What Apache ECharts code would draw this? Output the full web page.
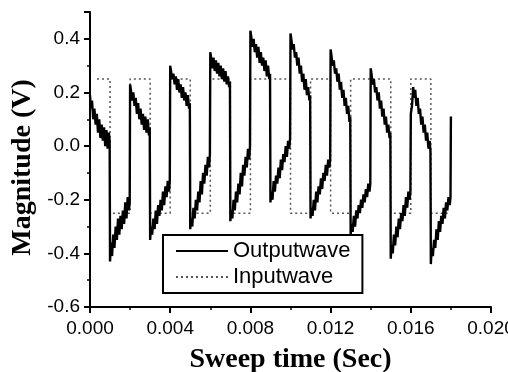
<!DOCTYPE html>
<html>
<head>
<meta charset="utf-8">
<script src="https://cdn.jsdelivr.net/npm/echarts@6/dist/echarts.min.js"></script>
<style>html,body{margin:0;padding:0;background:#fff}#c{width:508px;height:372px}</style>
</head>
<body>
<div id="c"></div>
<script>
// time in ms, magnitude in V
var xTickLabels = {0:'0.000',4:'0.004',8:'0.008',12:'0.012',16:'0.016',20:'0.020'};
var yTickLabels = {'-0.6':'-0.6','-0.4':'-0.4','-0.2':'-0.2','0':'0.0','0.2':'0.2','0.4':'0.4'};
var seriesNames = ['Outputwave','Inputwave'];

var outputWave = [
 [0,0.19],[0.04,0.14],[0.1,0.17],[0.16,0.10],[0.22,0.14],[0.28,0.08],[0.34,0.12],[0.4,0.05],[0.46,0.10],[0.52,0.03],[0.58,0.08],[0.64,0.02],[0.7,0.07],[0.76,0.00],[0.82,0.06],[0.88,-0.01],[0.94,0.05],[0.98,0.02],
 [1.0,0.02],[1.0,-0.43],
 [1.04,-0.36],[1.1,-0.41],[1.16,-0.33],[1.22,-0.38],[1.28,-0.30],[1.34,-0.35],[1.4,-0.27],[1.46,-0.33],[1.52,-0.26],[1.58,-0.31],[1.64,-0.24],[1.7,-0.29],[1.76,-0.21],[1.82,-0.27],[1.88,-0.19],[1.94,-0.24],[1.98,-0.21],
 [2.0,-0.21],[2.0,0.23],
 [2.04,0.21],[2.1,0.17],[2.16,0.20],[2.22,0.15],[2.28,0.18],[2.34,0.12],[2.4,0.16],[2.46,0.10],[2.52,0.14],[2.58,0.08],[2.64,0.12],[2.7,0.06],[2.76,0.11],[2.82,0.05],[2.88,0.10],[2.94,0.04],[2.98,0.07],
 [3.0,0.07],[3.0,-0.35],
 [3.04,-0.30],[3.1,-0.33],[3.16,-0.27],[3.22,-0.31],[3.28,-0.24],[3.34,-0.29],[3.4,-0.22],[3.46,-0.26],[3.52,-0.20],[3.58,-0.24],[3.64,-0.17],[3.7,-0.22],[3.76,-0.15],[3.82,-0.19],[3.88,-0.13],[3.94,-0.17],[3.98,-0.13],
 [4.0,-0.13],[4.0,0.30],
 [4.04,0.28],[4.1,0.25],[4.16,0.27],[4.22,0.23],[4.28,0.26],[4.34,0.21],[4.4,0.25],[4.46,0.20],[4.52,0.23],[4.58,0.18],[4.64,0.22],[4.7,0.17],[4.76,0.20],[4.82,0.15],[4.88,0.19],[4.94,0.14],[4.98,0.16],
 [5.0,0.16],[5.0,-0.31],
 [5.04,-0.27],[5.1,-0.30],[5.16,-0.23],[5.22,-0.27],[5.28,-0.20],[5.34,-0.24],[5.4,-0.17],[5.46,-0.21],[5.52,-0.13],[5.58,-0.18],[5.64,-0.10],[5.7,-0.14],[5.76,-0.07],[5.82,-0.11],[5.88,-0.04],[5.94,-0.08],[5.98,-0.03],
 [6.0,-0.03],[6.0,0.35],
 [6.04,0.33],[6.1,0.29],[6.16,0.33],[6.22,0.28],[6.28,0.32],[6.34,0.27],[6.4,0.31],[6.46,0.26],[6.52,0.30],[6.58,0.25],[6.64,0.29],[6.7,0.24],[6.76,0.28],[6.82,0.23],[6.88,0.26],[6.94,0.22],[6.98,0.24],
 [7.0,0.24],[7.0,-0.28],
 [7.04,-0.24],[7.1,-0.27],[7.16,-0.20],[7.22,-0.24],[7.28,-0.17],[7.34,-0.21],[7.4,-0.14],[7.46,-0.18],[7.52,-0.10],[7.58,-0.15],[7.64,-0.07],[7.7,-0.11],[7.76,-0.04],[7.82,-0.08],[7.88,-0.01],[7.94,-0.05],[7.98,0.00],
 [8.0,0.00],[8.0,0.43],
 [8.04,0.41],[8.1,0.37],[8.16,0.40],[8.22,0.35],[8.28,0.38],[8.34,0.33],[8.4,0.37],[8.46,0.31],[8.52,0.35],[8.58,0.30],[8.64,0.33],[8.7,0.28],[8.76,0.32],[8.82,0.26],[8.88,0.30],[8.94,0.25],[8.98,0.27],
 [9.0,0.27],[9.0,-0.21],
 [9.04,-0.17],[9.1,-0.20],[9.16,-0.13],[9.22,-0.17],[9.28,-0.11],[9.34,-0.14],[9.4,-0.08],[9.46,-0.12],[9.52,-0.05],[9.58,-0.09],[9.64,-0.03],[9.7,-0.06],[9.76,0.00],[9.82,-0.04],[9.88,0.02],[9.94,-0.01],[9.98,0.03],
 [10.0,0.03],[10.0,0.42],
 [10.04,0.40],[10.1,0.36],[10.16,0.38],[10.22,0.33],[10.28,0.35],[10.34,0.30],[10.4,0.33],[10.46,0.27],[10.52,0.30],[10.58,0.24],[10.64,0.27],[10.7,0.21],[10.76,0.25],[10.82,0.19],[10.88,0.22],[10.94,0.17],[10.98,0.19],
 [11.0,0.19],[11.0,-0.27],
 [11.04,-0.23],[11.1,-0.26],[11.16,-0.20],[11.22,-0.24],[11.28,-0.17],[11.34,-0.21],[11.4,-0.15],[11.46,-0.18],[11.52,-0.12],[11.58,-0.16],[11.64,-0.10],[11.7,-0.13],[11.76,-0.07],[11.82,-0.11],[11.88,-0.05],[11.94,-0.08],[11.98,-0.05],
 [12.0,-0.05],[12.0,0.36],
 [12.04,0.34],[12.1,0.30],[12.16,0.32],[12.22,0.27],[12.28,0.29],[12.34,0.24],[12.4,0.27],[12.46,0.21],[12.52,0.24],[12.58,0.18],[12.64,0.21],[12.7,0.15],[12.76,0.18],[12.82,0.12],[12.88,0.15],[12.94,0.09],[12.98,0.11],
 [13.0,0.11],[13.0,-0.33],
 [13.04,-0.29],[13.1,-0.32],[13.16,-0.26],[13.22,-0.30],[13.28,-0.24],[13.34,-0.27],[13.4,-0.22],[13.46,-0.25],[13.52,-0.20],[13.58,-0.23],[13.64,-0.18],[13.7,-0.21],[13.76,-0.16],[13.82,-0.19],[13.88,-0.14],[13.94,-0.17],[13.98,-0.14],
 [14.0,-0.14],[14.0,0.29],
 [14.04,0.27],[14.1,0.23],[14.16,0.25],[14.22,0.20],[14.28,0.22],[14.34,0.17],[14.4,0.20],[14.46,0.14],[14.52,0.17],[14.58,0.11],[14.64,0.14],[14.7,0.08],[14.76,0.11],[14.82,0.05],[14.88,0.08],[14.94,0.03],[14.98,0.05],
 [15.0,0.05],[15.0,-0.42],
 [15.04,-0.37],[15.1,-0.40],[15.16,-0.33],[15.22,-0.37],[15.28,-0.30],[15.34,-0.34],[15.4,-0.27],[15.46,-0.31],[15.52,-0.25],[15.58,-0.28],[15.64,-0.22],[15.7,-0.26],[15.76,-0.19],[15.82,-0.23],[15.88,-0.17],[15.94,-0.20],[15.98,-0.17],
 [16.0,-0.17],[16.0,0.12],[16.06,0.15],[16.12,0.22],
 [16.16,0.18],[16.22,0.21],[16.28,0.15],[16.34,0.18],[16.4,0.12],[16.46,0.14],[16.52,0.08],[16.58,0.11],[16.64,0.05],[16.7,0.08],[16.76,0.02],[16.82,0.05],[16.88,-0.01],[16.94,0.02],[16.98,-0.02],
 [17.0,-0.02],[17.0,-0.44],
 [17.04,-0.38],[17.1,-0.41],[17.16,-0.35],[17.22,-0.38],[17.28,-0.31],[17.34,-0.35],[17.4,-0.28],[17.46,-0.32],[17.52,-0.26],[17.58,-0.29],[17.64,-0.23],[17.7,-0.27],[17.76,-0.21],[17.82,-0.24],[17.88,-0.19],[17.94,-0.22],[17.98,-0.19],
 [18.0,-0.19],[18.0,0.11]
];

var inputWave = [
 [0.35,0.25],[1,0.25],[1,-0.25],[2,-0.25],[2,0.25],[3,0.25],[3,-0.25],[4,-0.25],[4,0.25],[5,0.25],[5,-0.25],[6,-0.25],[6,0.25],[7,0.25],[7,-0.25],[8,-0.25],[8,0.25],[10,0.25],[10,-0.25],[11,-0.25],[11,0.25],[12,0.25],[12,-0.25],[13,-0.25],[13,0.25],[15,0.25],[15,-0.25],[16,-0.25],[16,0.25],[17,0.25],[17,-0.25],[17.9,-0.25]
];

var chart = echarts.init(document.getElementById('c'), null, {renderer:'canvas'});
var tickFont = {fontFamily:'Liberation Sans', fontSize:19, color:'#000'};
chart.setOption({
  animation:false,
  backgroundColor:'#fff',
  grid:{left:90, right:17, top:12, bottom:65, containLabel:false, outerBoundsMode:'none'},
  legend:{
    orient:'vertical', left:163, top:235,
    data:seriesNames,
    itemWidth:52, itemHeight:14, itemGap:4,
    itemStyle:{opacity:0},
    borderColor:'#000', borderWidth:2, padding:[5,12,5,12],
    backgroundColor:'#fff',
    textStyle:{fontFamily:'Liberation Sans', fontSize:22, color:'#000'}
  },
  xAxis:{
    type:'value', min:0, max:20, interval:4,
    name:'Sweep time (Sec)', nameLocation:'middle', nameGap:39,
    nameTextStyle:{fontFamily:'Liberation Serif', fontWeight:'bold', fontSize:28, color:'#000'},
    axisLine:{show:true, onZero:false, lineStyle:{color:'#000', width:2}},
    axisTick:{show:true, inside:false, length:6, lineStyle:{color:'#000', width:2}},
    minorTick:{show:true, splitNumber:2, length:3, lineStyle:{color:'#000', width:1.5}},
    splitLine:{show:false},
    axisLabel:{margin:12, formatter:function(v){return xTickLabels[v]!==undefined?xTickLabels[v]:'';}, ...tickFont}
  },
  yAxis:{
    type:'value', min:-0.6, max:0.5, interval:0.2,
    name:'Magnitude (V)', nameLocation:'middle', nameGap:52,
    nameTextStyle:{fontFamily:'Liberation Serif', fontWeight:'bold', fontSize:28, color:'#000', padding:[0,16,0,0]},
    axisLine:{show:true, onZero:false, lineStyle:{color:'#000', width:2}},
    axisTick:{show:true, inside:false, length:6, lineStyle:{color:'#000', width:2}},
    minorTick:{show:true, splitNumber:2, length:3, lineStyle:{color:'#000', width:1.5}},
    splitLine:{show:false},
    axisLabel:{margin:10, showMaxLabel:false, formatter:function(v){var k=String(Math.round(v*10)/10);return yTickLabels[k]!==undefined?yTickLabels[k]:'';}, ...tickFont}
  },
  series:[
    {name:seriesNames[0], type:'line', data:outputWave, symbol:'none', z:3,
     lineStyle:{color:'#000', width:2.4}, itemStyle:{color:'#000'}},
    {name:seriesNames[1], type:'line', data:inputWave, symbol:'none', z:2,
     lineStyle:{color:'#555', width:1.5, type:[2,3]}, itemStyle:{color:'#555'}}
  ]
});
</script>
</body>
</html>
